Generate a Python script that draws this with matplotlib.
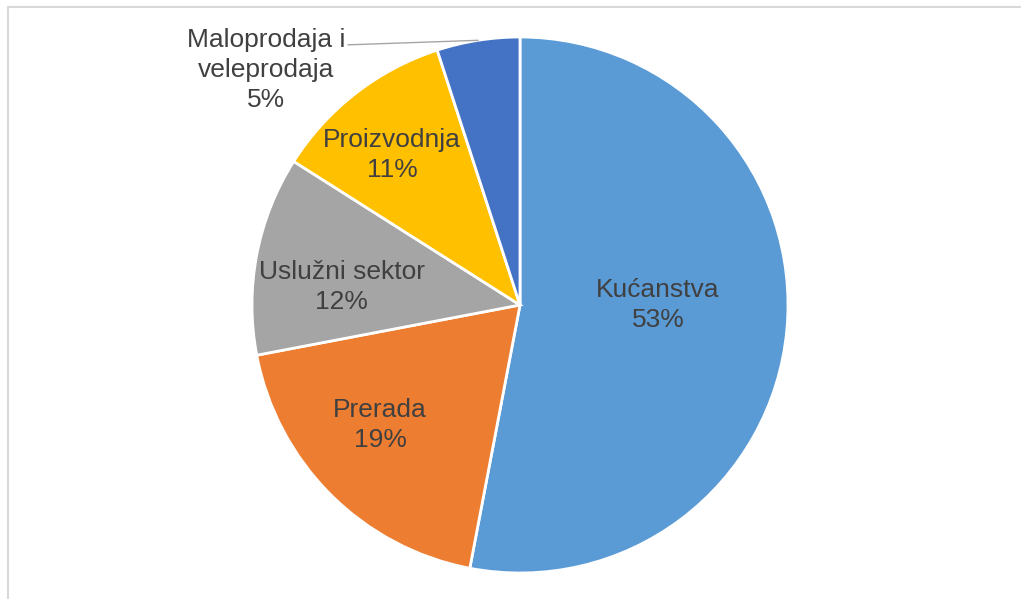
import matplotlib
matplotlib.use('Agg')
import matplotlib.pyplot as plt
import numpy as np

labels = ['Kućanstva', 'Prerada', 'Uslužni sektor', 'Proizvodnja', 'Maloprodaja i\nveleprodaja']
values = [53, 19, 12, 11, 5]
colors = ['#5B9BD5', '#ED7D31', '#A5A5A5', '#FFC000', '#4472C4']

plt.rcParams['font.family'] = ['Liberation Sans', 'DejaVu Sans']

fig = plt.figure(figsize=(10.21, 5.99), dpi=100)
# light frame like the original chart area
fig.patches.append(plt.Rectangle((7.5/1021, -0.1), 1.2, (599-7.5)/599 + 0.1, transform=fig.transFigure,
                                 fill=False, edgecolor='#D9D9D9', linewidth=1.5))

ax = fig.add_axes([252/1021, 26/599, 536/1021, 536/599])
wedges, _ = ax.pie(values, colors=colors, startangle=90, counterclock=False,
                   wedgeprops=dict(edgecolor='white', linewidth=2))
ax.set_xlim(-1, 1)
ax.set_ylim(-1, 1)
ax.set_aspect('equal')
ax.axis('off')

total = sum(values)
# label distance from centre and small angle nudge (degrees)
dist = [0.515, 0.688, 0.668, 0.736]
nudge = [5.4, -4.4, 5.0, 2.7]
for i, w in enumerate(wedges):
    mid = (w.theta1 + w.theta2) / 2
    txt = f"{labels[i]}\n{round(values[i] / total * 100)}%"
    if i < 4:
        a = np.deg2rad(mid + nudge[i])
        ax.text(dist[i] * np.cos(a), dist[i] * np.sin(a), txt, ha='center', va='center',
                fontsize=19, color='#404040', linespacing=1.3)
    else:
        a = np.deg2rad(mid)
        ax.annotate(txt, xy=(np.cos(a), np.sin(a)), xytext=(-0.948, 0.877), ha='center', va='center',
                    fontsize=19, color='#404040', linespacing=1.3, annotation_clip=False,
                    arrowprops=dict(arrowstyle='-', color='#A6A6A6', lw=1,
                                    shrinkA=0, shrinkB=0,
                                    relpos=(1.0, 0.8)))

fig.savefig('out.png', dpi=100)
